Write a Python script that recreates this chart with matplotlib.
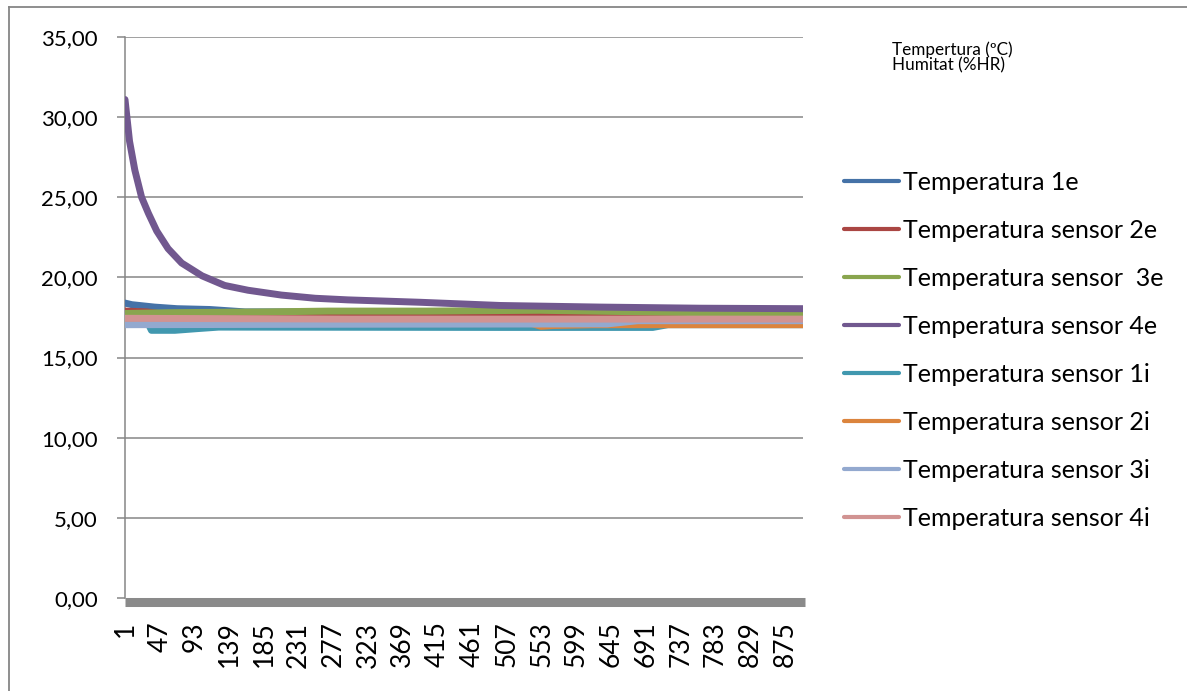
import matplotlib
matplotlib.use("Agg")
import matplotlib.pyplot as plt
import matplotlib.transforms as mtransforms
from matplotlib.lines import Line2D

idx_1e = [1, 10, 40, 70, 113, 160, 400, 700, 899]
t_1e = [18.4, 18.3, 18.15, 18.05, 18.0, 17.85, 17.85, 17.85, 17.85]

idx_2e = [1, 30, 60, 400, 700, 899]
t_2e = [17.9, 17.85, 17.65, 17.65, 17.65, 17.7]

idx_3e = [1, 60, 190, 270, 400, 550, 620, 760, 899]
t_3e = [17.75, 17.8, 17.85, 17.9, 17.9, 17.95, 17.9, 17.8, 17.75]

idx_4e = [1, 7, 14, 23, 32, 43, 58, 76, 103, 133, 164, 208, 253, 296,
          392, 498, 630, 762, 899]
t_4e = [31.1, 28.5, 26.7, 25.0, 24.0, 22.9, 21.8, 20.9, 20.1, 19.5,
        19.2, 18.9, 18.7, 18.6, 18.45, 18.25, 18.15, 18.08, 18.05]

idx_1i = [1, 32, 36, 67, 95, 125, 500, 700, 720, 899]
t_1i = [17.1, 17.1, 16.7, 16.7, 16.8, 16.9, 16.88, 16.88, 17.05, 17.05]

idx_2i = [1, 540, 552, 568, 620, 899]
t_2i = [17.12, 17.12, 16.95, 17.0, 17.05, 17.05]

idx_3i = [1, 300, 640, 680, 899]
t_3i = [17.05, 17.08, 17.1, 17.3, 17.3]

idx_4i = [1, 300, 600, 899]
t_4i = [17.45, 17.4, 17.4, 17.4]

# serie a zero (bande grise sur l'axe)
idx_zero = [1, 901]
v_zero = [0.0, 0.0]

noms = ["Temperatura 1e", "Temperatura sensor 2e", "Temperatura sensor  3e",
        "Temperatura sensor 4e", "Temperatura sensor 1i", "Temperatura sensor 2i",
        "Temperatura sensor 3i", "Temperatura sensor 4i"]
couleurs = ["#4572A7", "#AA4643", "#89A54E", "#71588F",
            "#4198AF", "#DB843D", "#93A9CF", "#D19392"]

y_ticks = [0, 5, 10, 15, 20, 25, 30, 35]
y_labels = ["0,00", "5,00", "10,00", "15,00", "20,00", "25,00", "30,00", "35,00"]
x_ticks = list(range(1, 900, 46))

series = [(idx_1e, t_1e), (idx_2e, t_2e), (idx_3e, t_3e), (idx_4e, t_4e),
          (idx_1i, t_1i), (idx_2i, t_2i), (idx_3i, t_3i), (idx_4i, t_4i)]

plt.rcParams["font.family"] = ["Lato", "DejaVu Sans"]

W, H = 1187, 691
fig = plt.figure(figsize=(W / 100, H / 100), dpi=100)
ax = fig.add_axes([125 / W, 1 - 598 / H, (803 - 125) / W, (598 - 37) / H])

gris = "#868686"

# cadre exterieur (seuls les bords gauche et haut sont visibles)
fig.add_artist(Line2D([9 / W, 9 / W], [0, 1 - 7 / H], transform=fig.transFigure,
                      color=gris, linewidth=1.3))
fig.add_artist(Line2D([9 / W, 1], [1 - 7 / H, 1 - 7 / H], transform=fig.transFigure,
                      color=gris, linewidth=1.3))

for y in y_ticks[1:]:
    ax.axhline(y, color=gris, linewidth=1.1, zorder=1)

decal = mtransforms.offset_copy(ax.transData, fig=fig, x=0, y=-4, units="dots")
ax.plot(idx_zero, v_zero, color="#8A8A8A", linewidth=6.5, solid_capstyle="butt",
        transform=decal, clip_on=False, zorder=2)

for (xs, ys), nom, c in zip(series, noms, couleurs):
    ax.plot(xs, ys, color=c, linewidth=5.0, label=nom,
            solid_capstyle="round", solid_joinstyle="round", zorder=3)

ax.set_xlim(1, 899)
ax.set_ylim(0, 35)

for s in ["top", "right", "bottom"]:
    ax.spines[s].set_visible(False)
ax.spines["left"].set_color(gris)
ax.spines["left"].set_linewidth(1.1)

ax.set_yticks(y_ticks)
ax.set_yticklabels(y_labels)
ax.tick_params(axis="y", length=6, width=1.1, color=gris, pad=13.5, labelsize=16)

ax.set_xticks(x_ticks)
ax.set_xticklabels([str(v) for v in x_ticks], rotation=90)
ax.tick_params(axis="x", length=0, pad=17, labelsize=19)

handles = [Line2D([], [], color=c, linewidth=3.0, solid_capstyle="round") for c in couleurs]
fig.legend(handles=handles, labels=noms, loc="center left",
           bbox_to_anchor=(844 / W, 1 - 350 / H),
           frameon=False, fontsize=18, handlelength=2.2, handletextpad=0.16,
           labelspacing=1.0, borderpad=0, borderaxespad=0)

fig.text(892 / W, 1 - 55 / H, "Tempertura (ºC)", fontsize=12.3, ha="left", va="baseline")
fig.text(892 / W, 1 - 70 / H, "Humitat (%HR)", fontsize=12.3, ha="left", va="baseline")

fig.savefig("out.png", dpi=100)
